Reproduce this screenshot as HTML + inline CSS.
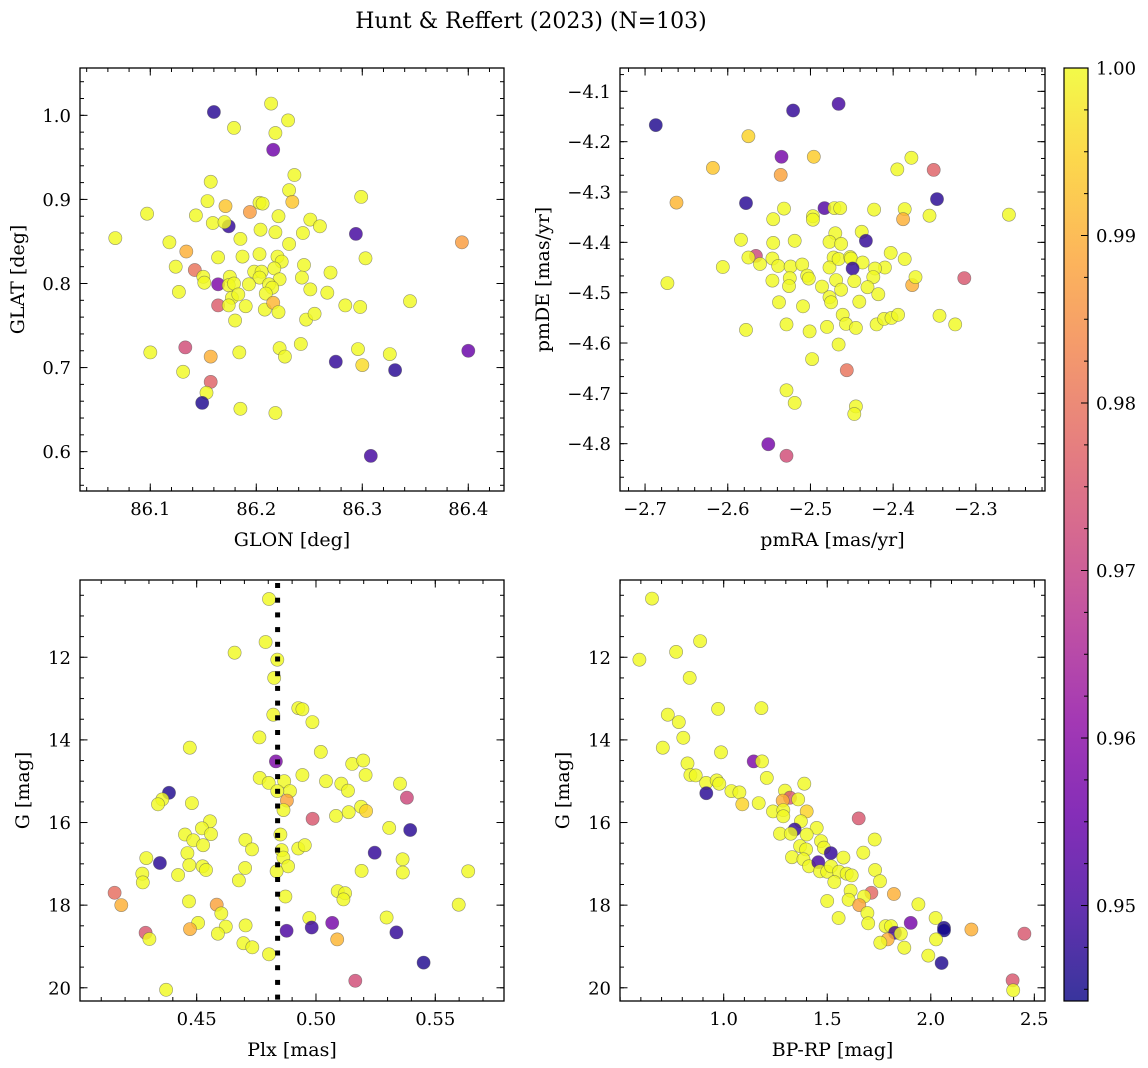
<!DOCTYPE html>
<html><head><meta charset="utf-8"><style>
html,body{margin:0;padding:0;background:#fff;}
svg{display:block;font-family:"DejaVu Serif","Liberation Serif",serif;}
</style></head><body>
<svg id="fig" width="1148" height="1068" viewBox="0 0 1148 1068" xmlns="http://www.w3.org/2000/svg">
<text x="531" y="28" font-size="22" text-anchor="middle">Hunt &amp; Reffert (2023) (N=103)</text>
</svg>
<script>
// ---- Panel 1: GLON / GLAT ----
const glon = [86.160,86.214,86.230,86.179,86.218,86.216,86.236,86.157,86.231,86.299,86.154,86.171,86.234,86.203,86.206,86.097,86.194,86.143,86.221,86.251,86.159,86.174,86.170,86.260,86.204,86.218,86.244,86.294,86.067,86.394,86.118,86.185,86.231,86.134,86.203,86.164,86.187,86.220,86.224,86.303,86.124,86.142,86.150,86.151,86.164,86.175,86.245,86.198,86.205,86.203,86.217,86.222,86.212,86.215,86.243,86.270,86.174,86.179,86.193,86.177,86.183,86.209,86.251,86.267,86.127,86.164,86.174,86.190,86.208,86.216,86.221,86.284,86.298,86.345,86.180,86.247,86.255,86.100,86.133,86.157,86.184,86.222,86.227,86.242,86.275,86.296,86.300,86.326,86.331,86.400,86.131,86.157,86.153,86.149,86.185,86.218,86.308];
const glat = [1.004,1.014,0.994,0.985,0.979,0.959,0.929,0.921,0.911,0.903,0.898,0.892,0.897,0.896,0.895,0.883,0.885,0.881,0.880,0.876,0.872,0.868,0.873,0.868,0.864,0.861,0.860,0.859,0.854,0.849,0.849,0.853,0.847,0.838,0.835,0.831,0.832,0.832,0.826,0.830,0.820,0.816,0.808,0.801,0.799,0.808,0.822,0.814,0.814,0.807,0.818,0.805,0.799,0.795,0.807,0.813,0.798,0.800,0.799,0.783,0.787,0.788,0.793,0.789,0.790,0.774,0.774,0.773,0.769,0.777,0.766,0.774,0.772,0.779,0.756,0.757,0.764,0.718,0.724,0.713,0.718,0.723,0.713,0.728,0.707,0.722,0.703,0.716,0.697,0.720,0.695,0.683,0.670,0.658,0.651,0.646,0.595];
const prob1 = [.947,1,1,1,1,.956,1,1,1,1, 1,.993,.993,1,1,1,.987,1,1,1, 1,.948,1,1,1,1,1,.95,1,.987, 1,1,1,.99,1,1,1,1,1,1, 1,.98,1,1,.958,1,1,1,1,1, 1,1,1,1,1,1,1,1,1,1, 1,1,1,1,1,.976,1,1,1,.991, 1,1,1,1,1,1,1,1,.973,.99, 1,1,1,1,.948,1,.996,1,.947,.955, 1,.977,1,.946,1,1,.95];
// ---- Panel 2: pmRA / pmDE ----
const pmra = [-2.687,-2.521,-2.466,-2.575,-2.535,-2.496,-2.618,-2.536,-2.378,-2.395,-2.351,-2.662,-2.578,-2.347,-2.260,-2.483,-2.471,-2.464,-2.532,-2.423,-2.386,-2.388,-2.356,-2.545,-2.497,-2.497,-2.470,-2.438,-2.433,-2.584,-2.545,-2.519,-2.477,-2.463,-2.566,-2.575,-2.561,-2.546,-2.539,-2.606,-2.524,-2.510,-2.472,-2.477,-2.466,-2.452,-2.451,-2.437,-2.449,-2.403,-2.386,-2.410,-2.422,-2.673,-2.546,-2.525,-2.526,-2.504,-2.502,-2.486,-2.469,-2.463,-2.447,-2.424,-2.431,-2.418,-2.377,-2.373,-2.314,-2.538,-2.477,-2.475,-2.441,-2.509,-2.578,-2.529,-2.501,-2.480,-2.461,-2.457,-2.445,-2.420,-2.411,-2.402,-2.394,-2.344,-2.325,-2.466,-2.498,-2.456,-2.529,-2.519,-2.445,-2.447,-2.551,-2.529];
const pmde = [-4.167,-4.138,-4.125,-4.189,-4.230,-4.230,-4.252,-4.266,-4.232,-4.255,-4.256,-4.321,-4.322,-4.314,-4.345,-4.332,-4.332,-4.332,-4.333,-4.335,-4.334,-4.354,-4.347,-4.354,-4.348,-4.355,-4.382,-4.379,-4.397,-4.395,-4.401,-4.397,-4.399,-4.403,-4.427,-4.430,-4.443,-4.432,-4.447,-4.449,-4.448,-4.444,-4.430,-4.450,-4.433,-4.429,-4.432,-4.440,-4.452,-4.421,-4.433,-4.450,-4.452,-4.481,-4.476,-4.471,-4.487,-4.466,-4.472,-4.488,-4.475,-4.494,-4.477,-4.469,-4.489,-4.503,-4.485,-4.469,-4.471,-4.519,-4.509,-4.519,-4.518,-4.527,-4.574,-4.563,-4.577,-4.568,-4.544,-4.562,-4.570,-4.563,-4.552,-4.550,-4.544,-4.546,-4.563,-4.603,-4.632,-4.654,-4.694,-4.719,-4.726,-4.741,-4.801,-4.824];
const prob2 = [.946,.948,.95,.995,.957,.994,.993,.988,1,1, .977,.991,.947,.947,1,.952,1,1,1,1, 1,.99,1,1,1,1,1,1,.948,1, 1,1,1,1,.972,1,1,1,1,1, 1,1,1,1,1,1,1,1,.948,1, 1,1,1,1,1,1,1,1,1,1, 1,1,1,1,1,1,.99,1,.975,1, 1,1,1,1,1,1,1,1,1,1, 1,1,1,1,1,1,1,1,1,.98, 1,1,1,1,.957,.973];
// ---- Panel 3: Plx / G ----
const plx = [0.4803,0.4789,0.4659,0.4838,0.4825,0.4926,0.4943,0.4985,0.4821,0.4763,0.4471,0.5020,0.4832,0.5152,0.5198,0.5208,0.4943,0.4764,0.4802,0.4867,0.4891,0.4838,0.5042,0.5106,0.5134,0.5352,0.5381,0.4384,0.4356,0.4338,0.4480,0.4878,0.4864,0.4986,0.5084,0.5137,0.5189,0.5210,0.5307,0.5395,0.4556,0.4522,0.4560,0.4451,0.4486,0.4527,0.4461,0.4289,0.4346,0.4704,0.4732,0.4851,0.4856,0.4863,0.4883,0.4926,0.4953,0.5246,0.5363,0.5364,0.5191,0.5638,0.4469,0.4525,0.4539,0.4272,0.4422,0.4703,0.4835,0.4274,0.4677,0.4156,0.4184,0.4468,0.4584,0.4603,0.4872,0.5091,0.5122,0.5115,0.5598,0.4972,0.5068,0.5296,0.4506,0.4622,0.4705,0.4877,0.4982,0.5337,0.4286,0.4302,0.4472,0.4589,0.5089,0.4696,0.4733,0.4803,0.5451,0.5165,0.4372];
const gmag3 = [10.59,11.63,11.89,12.06,12.50,13.23,13.26,13.57,13.39,13.94,14.19,14.29,14.52,14.58,14.50,14.85,14.85,14.92,15.04,15.00,15.24,15.24,15.00,15.06,15.23,15.06,15.40,15.28,15.44,15.56,15.53,15.47,15.70,15.91,15.84,15.75,15.62,15.72,16.13,16.18,15.97,16.14,16.28,16.29,16.43,16.55,16.74,16.86,16.98,16.42,16.65,16.29,16.67,16.85,17.06,16.63,16.55,16.73,16.89,17.21,17.17,17.18,17.03,17.06,17.15,17.24,17.27,17.10,17.18,17.45,17.40,17.70,18.00,17.91,17.99,18.20,17.79,17.66,17.71,17.86,17.99,18.31,18.43,18.30,18.43,18.52,18.49,18.62,18.54,18.66,18.67,18.82,18.58,18.69,18.83,18.92,19.02,19.19,19.39,19.83,20.05];
const prob3 = [1,1,1,1,1,1,1,1,1,1, 1,1,.958,1,1,1,1,1,1,1, 1,1,1,1,1,1,.972,.946,1,1, 1,.988,1,.975,1,1,1,.995,1,.947, 1,1,1,1,1,1,1,1,.947,1, 1,1,1,1,1,1,1,.948,1,1, 1,1,1,1,1,1,1,1,1,1, 1,.979,.99,1,.988,1,1,1,1,1, 1,1,.957,1,1,1,1,.951,.949,.948, .975,1,.99,1,.991,1,1,1,.946,.973, 1];
const plxMean = [0.4839];
// ---- Panel 4: BP-RP / G ----
const bprp = [0.654,0.593,0.770,0.886,0.836,0.730,0.783,0.805,0.706,0.973,1.182,0.987,1.145,1.185,0.825,0.839,0.865,0.915,0.966,0.979,0.916,1.037,1.076,1.090,1.169,1.208,1.389,1.296,1.320,1.285,1.360,1.238,1.288,1.401,1.288,1.373,1.343,1.449,1.652,1.729,1.272,1.324,1.401,1.369,1.398,1.470,1.484,1.517,1.330,1.385,1.412,1.457,1.465,1.500,1.518,1.578,1.674,1.557,1.594,1.618,1.534,1.731,1.755,1.613,1.713,1.822,1.678,1.603,1.500,1.655,1.940,1.694,1.698,1.555,1.903,2.023,2.064,2.064,2.196,2.452,1.782,1.808,1.827,1.855,1.792,1.756,1.872,2.025,1.988,2.052,2.395,2.398];
const gmag4 = [10.58,12.06,11.87,11.61,12.50,13.39,13.57,13.95,14.19,13.25,13.23,14.30,14.52,14.52,14.57,14.85,14.86,15.04,14.98,15.06,15.29,15.24,15.27,15.56,15.53,14.92,15.06,15.23,15.40,15.47,15.44,15.73,15.70,15.73,15.85,15.97,16.17,16.13,15.90,16.41,16.27,16.27,16.29,16.57,16.65,16.45,16.61,16.74,16.84,16.89,17.06,16.96,17.18,17.19,17.06,16.85,16.73,17.19,17.24,17.28,17.44,17.15,17.42,17.65,17.70,17.73,17.79,17.87,17.90,18.00,17.98,18.19,18.44,18.31,18.43,18.31,18.55,18.61,18.59,18.69,18.51,18.51,18.67,18.69,18.83,18.91,19.03,18.83,19.22,19.40,19.82,20.06];
const prob4 = [1,1,1,1,1,1,1,1,1,1, 1,1,.958,1,1,1,1,1,1,1, .947,1,1,.995,1,1,1,1,.975,.99, 1,1,1,.995,1,1,.948,1,.975,1, 1,1,1,1,1,1,1,.948,1,1, 1,.95,1,1,1,1,1,1,1,1, 1,1,1,1,.978,.99,1,1,1,.988, 1,1,1,1,.957,1,.946,.945,.99,.975, 1,1,.95,1,.99,1,1,1,1,.946, .975,1];
// ---- tick label arrays ----
const p1XTicks = [86.1,86.2,86.3,86.4];
const p1YTicks = [0.6,0.7,0.8,0.9,1.0];
const p2XTicks = [-2.7,-2.6,-2.5,-2.4,-2.3];
const p2YTicks = [-4.8,-4.7,-4.6,-4.5,-4.4,-4.3,-4.2,-4.1];
const p3XTicks = [0.45,0.50,0.55];
const gTicks = [12,14,16,18,20];
const p4XTicks = [1.0,1.5,2.0,2.5];
const cbTicks = [0.95,0.96,0.97,0.98,0.99,1.00];

const NS = "http://www.w3.org/2000/svg";
const svg = document.getElementById('fig');
const VMIN = 0.9443, VMAX = 1.0;
const stops = [[13,8,135],[65,4,157],[106,0,168],[143,13,164],[177,42,144],[204,71,120],[225,100,98],[242,132,75],[252,166,54],[252,206,37],[240,249,33]];
function cmap(v){
  let t=(v-VMIN)/(VMAX-VMIN); t=Math.max(0,Math.min(1,t));
  const f=t*10, i=Math.min(9,Math.floor(f)), r=f-i;
  const a=stops[i], b=stops[i+1];
  return 'rgb('+[0,1,2].map(k=>Math.round(a[k]+(b[k]-a[k])*r)).join(',')+')';
}
function mk(tag, attrs, parent){
  const e=document.createElementNS(NS,tag);
  for(const k in attrs) e.setAttribute(k,attrs[k]);
  (parent||svg).appendChild(e); return e;
}
function fmt(v,d){ const s=Math.abs(v).toFixed(d); return (v<0?'\u2212':'')+s; }

function panel(c){
  const g=mk('g',{});
  
  
  const sx=v=>c.x0+(v-c.xmin)/(c.xmax-c.xmin)*(c.x1-c.x0);
  const sy=c.invert? (v=>c.y0+(v-c.ymin)/(c.ymax-c.ymin)*(c.y1-c.y0)) : (v=>c.y1-(v-c.ymin)/(c.ymax-c.ymin)*(c.y1-c.y0));
  const clipId='clip-'+c.name;
  const cp=mk('clipPath',{id:clipId},g);
  mk('rect',{x:c.x0,y:c.y0,width:c.x1-c.x0,height:c.y1-c.y0},cp);
  const pts=mk('g',{'clip-path':'url(#'+clipId+')'},g);
  for(let i=0;i<c.xs.length;i++){
    const p=mk('circle',{cx:sx(c.xs[i]).toFixed(1),cy:sy(c.ys[i]).toFixed(1),r:6.6,fill:cmap(c.ps[i]),'fill-opacity':0.82,stroke:'#555','stroke-opacity':0.6,'stroke-width':0.6},pts);
    
    
  }
  if(c.vline!==undefined){
    const vg=mk('g',{fill:'#000'},g);
    
    
    const vx=sx(c.vline);
    for(let y=c.y0+3; y<c.y1-2; y+=14.7){
      mk('rect',{x:(vx-2.5).toFixed(1),y:y.toFixed(1),width:5,height:Math.min(5,c.y1-y)},vg);
    }
  }
  const tk=mk('g',{stroke:'#000','stroke-width':1},g);
  const start=Math.ceil(c.xmin/c.xminor-1e-9);
  for(let k=start;k*c.xminor<=c.xmax+1e-9;k++){
    const x=sx(k*c.xminor);
    mk('line',{x1:x,x2:x,y1:c.y1,y2:c.y1-4},tk); mk('line',{x1:x,x2:x,y1:c.y0,y2:c.y0+4},tk);
  }
  const ylo=Math.min(c.ymin,c.ymax), yhi=Math.max(c.ymin,c.ymax);
  for(let k=Math.ceil(ylo/c.yminor-1e-9);k*c.yminor<=yhi+1e-9;k++){
    const y=sy(k*c.yminor);
    mk('line',{x1:c.x0,x2:c.x0+4,y1:y,y2:y},tk); mk('line',{x1:c.x1,x2:c.x1-4,y1:y,y2:y},tk);
  }
  c.xt.forEach(v=>{
    const x=sx(v);
    mk('line',{x1:x,x2:x,y1:c.y1,y2:c.y1-7.5},tk); mk('line',{x1:x,x2:x,y1:c.y0,y2:c.y0+7.5},tk);
    const t=mk('text',{x:x,y:c.y1+24,'font-size':18,'text-anchor':'middle'},g); t.textContent=fmt(v,c.xd);
    
    
  });
  c.yt.forEach(v=>{
    const y=sy(v);
    mk('line',{x1:c.x0,x2:c.x0+7.5,y1:y,y2:y},tk); mk('line',{x1:c.x1,x2:c.x1-7.5,y1:y,y2:y},tk);
    const t=mk('text',{x:c.x0-9,y:y+6.5,'font-size':18,'text-anchor':'end'},g); t.textContent=fmt(v,c.yd);
    
    
  });
  mk('rect',{x:c.x0,y:c.y0,width:c.x1-c.x0,height:c.y1-c.y0,fill:'none',stroke:'#000','stroke-width':1.3},g);
  const xl=mk('text',{x:(c.x0+c.x1)/2,y:c.y1+55,'font-size':19,'text-anchor':'middle'},g); xl.textContent=c.xlabel;
  
  
  const yc=(c.y0+c.y1)/2;
  const yl=mk('text',{x:c.ylx,y:yc,'font-size':19,'text-anchor':'middle',transform:'rotate(-90 '+c.ylx+' '+yc+')'},g); yl.textContent=c.ylabel;
  
  
}

panel({name:'glon-glat-panel',x0:80,x1:504,y0:68,y1:491,xmin:86.0337,xmax:86.4337,ymin:0.5532,ymax:1.0563,xs:glon,ys:glat,ps:prob1,xt:p1XTicks,yt:p1YTicks,xd:1,yd:1,xminor:0.02,yminor:0.02,xlabel:'GLON [deg]',ylabel:'GLAT [deg]',ylx:24});
panel({name:'pm-panel',x0:620,x1:1045,y0:68,y1:491,xmin:-2.7303,xmax:-2.2164,ymin:-4.894,ymax:-4.0536,xs:pmra,ys:pmde,ps:prob2,xt:p2XTicks,yt:p2YTicks,xd:1,yd:1,xminor:0.02,yminor:0.1/3,xlabel:'pmRA [mas/yr]',ylabel:'pmDE [mas/yr]',ylx:549});
panel({name:'plx-g-panel',x0:80,x1:504,y0:580,y1:1001,xmin:0.4011,xmax:0.5788,ymin:10.13,ymax:20.32,invert:true,xs:plx,ys:gmag3,ps:prob3,xt:p3XTicks,yt:gTicks,xd:2,yd:0,xminor:0.01,yminor:0.5,xlabel:'Plx [mas]',ylabel:'G [mag]',ylx:29,vline:plxMean[0]});
panel({name:'cmd-panel',x0:620,x1:1045,y0:580,y1:1001,xmin:0.4993,xmax:2.5515,ymin:10.13,ymax:20.32,invert:true,xs:bprp,ys:gmag4,ps:prob4,xt:p4XTicks,yt:gTicks,xd:1,yd:0,xminor:0.1,yminor:0.5,xlabel:'BP-RP [mag]',ylabel:'G [mag]',ylx:569});

(function(){
  const cx0=1064,cx1=1088,cy0=68,cy1=1001;
  const g=mk('g',{});
  
  
  const defs=mk('defs',{},g);
  const lg=mk('linearGradient',{id:'cbgrad',x1:0,y1:1,x2:0,y2:0},defs);
  for(let i=0;i<=20;i++){ const v=VMIN+(VMAX-VMIN)*i/20; mk('stop',{offset:(i/20),'stop-color':cmap(v)},lg); }
  mk('rect',{x:cx0,y:cy0,width:cx1-cx0,height:cy1-cy0,fill:'url(#cbgrad)','fill-opacity':0.82},g);
  const sy=v=>cy1-(v-VMIN)/(VMAX-VMIN)*(cy1-cy0);
  for(let v=0.945; v<=1.0001; v+=0.0025){ const y=sy(v); mk('line',{x1:cx1,x2:cx1-4,y1:y,y2:y,stroke:'#000'},g); }
  cbTicks.forEach(v=>{
    const y=sy(v);
    mk('line',{x1:cx1,x2:cx1-7,y1:y,y2:y,stroke:'#000'},g);
    const t=mk('text',{x:cx1+8,y:y+6.5,'font-size':18},g); t.textContent=v.toFixed(2);
    
    
  });
  mk('rect',{x:cx0,y:cy0,width:cx1-cx0,height:cy1-cy0,fill:'none',stroke:'#000','stroke-width':1.2},g);
})();
</script>
</body></html>
